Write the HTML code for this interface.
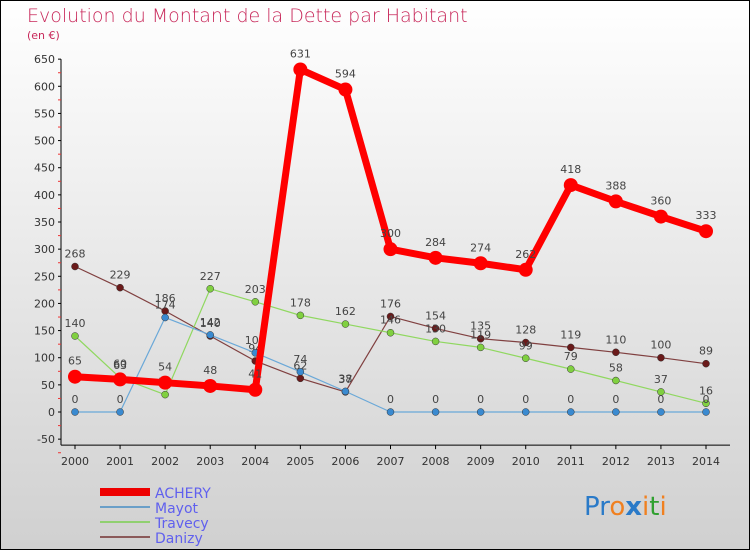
<!DOCTYPE html>
<html><head><meta charset="utf-8"><style>
body{margin:0;}
#wrap{position:relative;width:750px;height:550px;overflow:hidden;background:linear-gradient(#ffffff,#d0d0d0);font-family:"DejaVu Sans","Liberation Sans",sans-serif;}
#frame{position:absolute;left:0;top:0;width:748px;height:548px;border:1px solid #000;border-right:2px solid #000;border-bottom:2px solid #000;box-sizing:content-box;pointer-events:none;}
</style></head><body>
<div id="wrap">
<svg id="svg" width="750" height="550">
<text x="27" y="22" font-size="19" fill="#c8285a" font-weight="200">Evolution du Montant de la Dette par Habitant</text>
<text x="27" y="39" font-size="11" fill="#c8285a">(en €)</text>
<g id="axes"></g><g id="series"></g>
<g>
<rect x="100" y="488" width="50" height="8" fill="#e00"/>
<text x="155" y="498" font-size="14" fill="#6060ee">ACHERY</text>
<rect x="100" y="506" width="50" height="2" fill="#6a9fc8"/>
<text x="155" y="513" font-size="14" fill="#6060ee">Mayot</text>
<rect x="100" y="521" width="50" height="2" fill="#90d070"/>
<text x="155" y="528" font-size="14" fill="#6060ee">Travecy</text>
<rect x="100" y="536" width="50" height="2" fill="#8b5a5a"/>
<text x="155" y="543" font-size="14" fill="#6060ee">Danizy</text>
</g>
<text x="584" y="515" font-size="26" font-family="'DejaVu Sans',sans-serif"><tspan fill="#2a7ac8">Pr</tspan><tspan fill="#f08020">o</tspan><tspan fill="#2a7ac8" font-weight="bold">x</tspan><tspan fill="#f08020">i</tspan><tspan fill="#30a030">t</tspan><tspan fill="#f08020">i</tspan></text>
</svg>
<div id="frame"></div>
</div>
<script>
const years=[2000,2001,2002,2003,2004,2005,2006,2007,2008,2009,2010,2011,2012,2013,2014];
const yTicks=[-50,0,50,100,150,200,250,300,350,400,450,500,550,600,650];
const achery=[65,60,54,48,41,631,594,300,284,274,262,418,388,360,333];
const mayot=[0,0,174,142,109,74,38,0,0,0,0,0,0,0,0];
const travecy=[140,63,32,227,203,178,162,146,130,119,99,79,58,37,16];
const danizy=[268,229,186,140,94,62,37,176,154,135,128,119,110,100,89];
const NS='http://www.w3.org/2000/svg';
function xS(i){return 75+i*(706-75)/(years.length-1);}
function yS(v){return 412-v*(380/700);}
function mk(t,a,p){const e=document.createElementNS(NS,t);for(const k in a)e.setAttribute(k,a[k]);p.appendChild(e);return e;}
const ax=document.getElementById('axes');
const yl=mk('line',{x1:61,y1:yS(650),x2:61,y2:yS(-50)+6,stroke:'#000'},ax);


yTicks.forEach(v=>{
 const y=yS(v);
 const t=mk('line',{x1:58,y1:y,x2:61,y2:y,stroke:'#000'},ax);
 
 
 const m=mk('line',{x1:58,y1:y+13.6,x2:61,y2:y+13.6,stroke:'#e33'},ax);
 
 
 const l=mk('text',{x:55,y:y+4,'font-size':11,'text-anchor':'end',fill:'#333'},ax);
 l.textContent=v;
 
 
});
const xl=mk('line',{x1:61,y1:yS(-50)+6,x2:730,y2:yS(-50)+6,stroke:'#000'},ax);


years.forEach((yr,i)=>{
 const x=xS(i);
 const t=mk('line',{x1:x,y1:yS(-50)+6,x2:x,y2:yS(-50)+10,stroke:'#000'},ax);
 
 
 const l=mk('text',{x:x,y:465,'font-size':11,'text-anchor':'middle',fill:'#333'},ax);
 l.textContent=yr;
 
 
});
const sg=document.getElementById('series');
function draw(name,vals,color,w,r,dot){
 const g=mk('g',{},sg);
 
 
 const pl=mk('polyline',{points:vals.map((v,i)=>xS(i)+','+yS(v)).join(' '),fill:'none',stroke:color,'stroke-width':w,'stroke-linejoin':'round'},g);
 
 
 vals.forEach((v,i)=>{
  const c=mk('circle',{cx:xS(i),cy:yS(v),r:r,fill:dot,stroke:'#333','stroke-width':r>5?0:0.5},g);
  
  
  const t=mk('text',{x:xS(i),y:yS(v)-(r>5?12:9),'font-size':11,'text-anchor':'middle',fill:'#444'},g);
  t.textContent=v;
  
  
 });
}
draw('danizy',danizy,'#804040',1.2,3.5,'#6a1a1a');
draw('travecy',travecy,'#90d860',1.2,3.5,'#80d040');
draw('mayot',mayot,'#6aa8d8',1.2,3.5,'#3a8ad0');
draw('achery',achery,'#f00',7,7,'#f00');
</script>
</body></html>
